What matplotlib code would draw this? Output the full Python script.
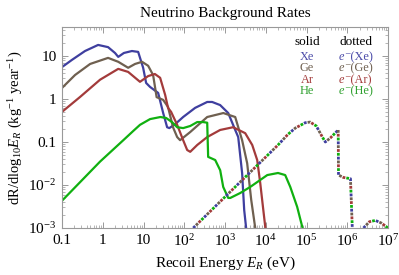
import numpy as np
import matplotlib
matplotlib.use("Agg")
import matplotlib.pyplot as plt

plt.rcParams['font.family'] = ['Liberation Serif', 'DejaVu Serif']
plt.rcParams['mathtext.fontset'] = 'custom'
plt.rcParams['mathtext.rm'] = 'Liberation Serif'
plt.rcParams['mathtext.it'] = 'Liberation Serif:italic'
plt.rcParams['lines.scale_dashes'] = False

# ---- data (recoil energy in eV, rate in kg^-1 year^-1 per log10 E) ----
xe_E = [0.1, 0.176, 0.367, 0.77, 1.35, 2.0, 2.4, 3.3, 5.2, 7.4, 9.8, 11.6, 14.5, 22.9,
        30.4, 38, 43, 60, 94, 185, 366, 484, 760, 1200, 1780, 2110, 2630, 2960, 3300]
xe_R = [5.5, 8.1, 13, 18, 16, 11.7, 9.5, 11.7, 13, 12.4, 5.3, 2.35, 1.9, 1.38,
        0.47, 0.22, 0.21, 0.26, 0.38, 0.62, 0.85, 0.85, 0.72, 0.47, 0.19, 0.13, 0.019, 0.0026, 0.001]

ge_E = [0.1, 0.209, 0.49, 1.35, 2.4, 4.2, 6.2, 9.2, 13, 17.2, 21, 30.4, 40, 53, 67, 79,
        140, 366, 910, 1780, 2630, 3500, 4400, 5520]
ge_R = [1.8, 3.6, 6.5, 9, 7.3, 5.3, 6.5, 7.3, 5.9, 3.6, 1.1, 0.95, 0.65, 0.22, 0.13, 0.11,
        0.17, 0.38, 0.47, 0.38, 0.11, 0.032, 0.0045, 0.001]

ar_E = [0.1, 0.277, 0.86, 2.4, 4.2, 8.2, 13, 19, 25.6, 34, 40, 47.6, 67, 94, 118, 140,
        208, 366, 760, 1580, 3130, 4660, 6170, 7330, 8720, 9800]
ar_R = [0.5, 1.11, 2.8, 5, 4.25, 2.5, 3.4, 3.8, 3.1, 1.24, 0.62, 0.5, 0.25, 0.11, 0.065, 0.059,
        0.085, 0.13, 0.19, 0.22, 0.16, 0.085, 0.038, 0.011, 0.0026, 0.001]

he_E = [0.1, 0.86, 3.2, 5.6, 8.2, 14.5, 26, 36, 50, 67, 94, 140, 208, 291, 366, 386, 575,
        762, 904, 1200, 1350, 2360, 4160, 10900, 20000, 30000, 40000, 59000, 80000]
he_R = [0.0043, 0.035, 0.11, 0.18, 0.25, 0.34, 0.38, 0.36, 0.29, 0.22, 0.21, 0.235, 0.29, 0.29,
        0.28, 0.045, 0.038, 0.022, 0.009, 0.005, 0.005, 0.0065, 0.009, 0.017, 0.019, 0.017,
        0.009, 0.0031, 0.001]

el_E = [166, 20000, 35000, 53000, 93000, 123000, 174000, 245000, 290000, 385000, 600000,
        610000, 800000, 1.2e6, 1.33e6]
el_R = [0.001, 0.085, 0.15, 0.21, 0.28, 0.29, 0.235, 0.13, 0.1, 0.124, 0.19,
        0.017, 0.015, 0.014, 0.001]
el2_E = [2.5e6, 3.5e6, 4.9e6, 6.9e6, 1e7]
el2_R = [0.001, 0.0014, 0.0015, 0.0013, 0.001]

names = ['Xe', 'Ge', 'Ar', 'He']
line_colors = ['#3f3f9f', '#6f6050', '#a33b3b', '#10b010']
text_colors = ['#4a4aa8', '#6f6050', '#a33b3b', '#2fa02f']

fig = plt.figure(figsize=(3.99, 2.75), dpi=100)
ax = fig.add_axes([62/399, 1-228/275, (388-62)/399, (228-27)/275])

for E, R, c in zip([xe_E, ge_E, ar_E, he_E], [xe_R, ge_R, ar_R, he_R], line_colors):
    ax.plot(E, R, color=c, lw=1.6, solid_joinstyle='round')

period = 11.0
on = 2.0
for i, c in enumerate(line_colors):
    for E, R in [(el_E, el_R), (el2_E, el2_R)]:
        ax.plot(E, R, color=c, lw=2.0,
                linestyle=(period - i * period / 4, (on, period - on)),
                dash_capstyle='butt')

ax.set_xscale('log')
ax.set_yscale('log')
ax.set_xlim(0.1, 1e7)
ax.set_ylim(1e-3, 47)

xt = [0.1, 1, 10, 1e2, 1e3, 1e4, 1e5, 1e6, 1e7]
xl = ['0.1', '1', '10', '10$^{2}$', '10$^{3}$', '10$^{4}$', '10$^{5}$', '10$^{6}$', '10$^{7}$']
yt = [1e-3, 1e-2, 0.1, 1, 10]
yl = ['10$^{-3}$', '10$^{-2}$', '0.1', '1', '10']
ax.set_xticks(xt)
ax.set_xticklabels(xl)
ax.set_yticks(yt)
ax.set_yticklabels(yl)
ax.xaxis.set_minor_locator(matplotlib.ticker.LogLocator(base=10, subs=np.arange(2, 10), numticks=20))
ax.yaxis.set_minor_locator(matplotlib.ticker.LogLocator(base=10, subs=np.arange(2, 10), numticks=20))
ax.xaxis.set_minor_formatter(matplotlib.ticker.NullFormatter())
ax.yaxis.set_minor_formatter(matplotlib.ticker.NullFormatter())
ax.tick_params(which='both', direction='in', top=True, right=True, labelsize=11,
               color='#999999', pad=4)
ax.tick_params(which='major', length=4, width=0.7)
ax.tick_params(which='minor', length=2, width=0.5)
for s in ax.spines.values():
    s.set_color('#999999')
    s.set_linewidth(0.8)

ax.set_title('Neutrino Background Rates', fontsize=11, pad=7)
ax.set_xlabel('Recoil Energy $E_R$ (eV)', fontsize=11, labelpad=4)
ax.set_ylabel('dR/dlog$_{10}$$E_R$ (kg$^{-1}$ year$^{-1}$)', fontsize=10.5, labelpad=2)

fig.text(307/399, 1-42/275, 'solid', ha='center', va='center', fontsize=9.5)
fig.text(356/399, 1-42/275, 'dotted', ha='center', va='center', fontsize=9.5)
rows_y = [57, 68.5, 80, 91.5]
for n, c, y in zip(names, text_colors, rows_y):
    fig.text(307/399, 1-y/275, n, ha='center', va='center', fontsize=8.8, color=c)
    fig.text(344.5/399, 1-y/275, 'e', ha='right', va='center', fontsize=8.8,
             color=c, style='italic')
    fig.text(344.5/399, 1-y/275, '\u207b(' + n + ')', ha='left', va='center',
             fontsize=8.8, color=c)

fig.savefig('out.png', dpi=100)
